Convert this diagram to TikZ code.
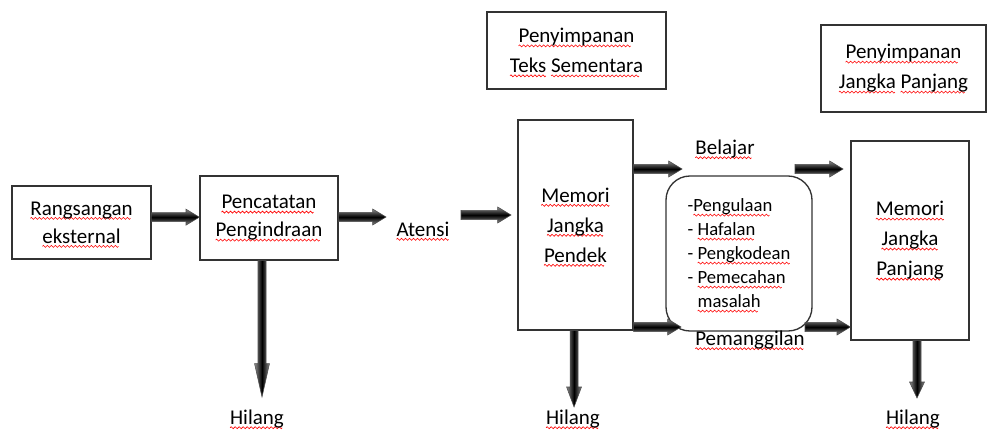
\documentclass[tikz,border=0pt]{standalone}
\usepackage{fontspec}
\setmainfont{Carlito}
\usetikzlibrary{calc}
\newsavebox\zigbox
\newcommand\sq[1]{\setbox0\hbox{#1}\rlap{\raisebox{-3.2pt}[0pt][0pt]{\hbox to \wd0{\leaders\copy\zigbox\hfill}}}#1}
\newcommand\harr[3]{%
  \path[harrow] let \p1=(#1), \p2=(#2) in
  (\x1,\y1+3.4pt) -- (\x2-#3,\y1+3.4pt) -- (\x2-#3,\y1+6pt) -- (\x2,\y1)
  -- (\x2-#3,\y1-6pt) -- (\x2-#3,\y1-3.4pt) -- (\x1,\y1-3.4pt) -- cycle;}
\newcommand\varr[3]{%
  \path[varrow] let \p1=(#1), \p2=(#2) in
  (\x1-3pt,\y1) -- (\x1-3pt,\y2+#3) -- (\x1-5.6pt,\y2+#3) -- (\x1,\y2)
  -- (\x1+5.6pt,\y2+#3) -- (\x1+3pt,\y2+#3) -- (\x1+3pt,\y1) -- cycle;}
\AtBeginDocument{\sbox\zigbox{\begin{pgfpicture}%
  \pgfpathrectangle{\pgfpoint{0pt}{-0.8pt}}{\pgfpoint{3pt}{1.6pt}}%
  \pgfusepath{use as bounding box}%
  \pgfsetstrokecolor{red}\pgfsetlinewidth{0.45pt}%
  \pgfpathmoveto{\pgfpoint{0pt}{0pt}}%
  \pgfpathlineto{\pgfpoint{0.75pt}{0.75pt}}%
  \pgfpathlineto{\pgfpoint{2.25pt}{-0.75pt}}%
  \pgfpathlineto{\pgfpoint{3pt}{0pt}}%
  \pgfusepath{stroke}%
  \end{pgfpicture}}}
\begin{document}
\begin{tikzpicture}[x=0.75pt,y=-0.75pt,
  box/.style={draw=black!80, line width=1pt, align=center, inner sep=0pt,
    font=\fontsize{15.75pt}{21pt}\selectfont},
  tall/.style={font=\fontsize{15.75pt}{22.5pt}\selectfont},
  lbl/.style={inner sep=0pt, align=center, font=\fontsize{15.75pt}{21pt}\selectfont},
  harrow/.style={top color=black!45, bottom color=black!45, middle color=black,
    draw=black!70, line width=0.4pt},
  varrow/.style={left color=black!45, right color=black!45, middle color=black,
    draw=black!70, line width=0.4pt}]
\useasboundingbox (0,0) rectangle (989,432);

% boxes
\node[box, minimum width=104.25pt, minimum height=54.75pt] (rang) at (81.5,222.5)
  {\sq{Rangsangan}\\\sq{eksternal}};
\node[box, minimum width=103.5pt, minimum height=63pt] (penc) at (269,218)
  {\sq{Pencatatan}\\\sq{Pengindraan}};
\node[lbl] (aten) at (423,229) {\sq{Atensi}};
\node[box, tall, minimum width=86.25pt, minimum height=157.5pt] (mjp) at (575.5,225)
  {\sq{Memori}\\\sq{Jangka}\\\sq{Pendek}};
\node[box, tall, minimum width=134.25pt, minimum height=57.75pt] (pts) at (576.5,50.5)
  {\sq{Penyimpanan}\\\sq{Teks} \sq{Sementara}};
\node[box, tall, minimum width=123.75pt, minimum height=65.25pt] (pjp) at (903.5,68.5)
  {\sq{Penyimpanan}\\\sq{Jangka} \sq{Panjang}};
\node[box, tall, minimum width=88.5pt, minimum height=149.25pt] (mjpj) at (910,240.5)
  {\sq{Memori}\\\sq{Jangka}\\\sq{Panjang}};
\node[box, rounded corners=18pt, minimum width=109.5pt, minimum height=116.25pt,
  align=left, font=\fontsize{14pt}{18pt}\selectfont] (proc) at (739,253.5)
  {-\sq{Pengulaan}\\- \sq{Hafalan}\\- \sq{Pengkodean}\\- \sq{Pemecahan}\\\phantom{- }\sq{masalah}};
\node[lbl] (bel) at (725,149) {\sq{Belajar}};
\node[lbl] (pem) at (750,340) {\sq{Pemanggilan}};
\node[lbl] (hil1) at (257,419) {\sq{Hilang}};
\node[lbl] (hil2) at (573,419) {\sq{Hilang}};
\node[lbl] (hil3) at (913,419) {\sq{Hilang}};

% free arrow ends
\coordinate (a2e) at (386,217);
\coordinate (a3s) at (461,215);
\coordinate (a3e) at (511,215);
\coordinate (a4e) at (682,169);
\coordinate (a5s) at (795,169);
\coordinate (a5e) at (843,169);
\coordinate (a6e) at (681,327);
\coordinate (a7s) at (805,327);
\coordinate (h1e) at (262,397);
\coordinate (h2e) at (574,407);
\coordinate (h3e) at (917,398);

% horizontal arrows
\harr{[yshift=4pt]rang.east}{penc.west}{10pt}
\harr{[yshift=0.75pt]penc.east}{a2e}{10pt}
\harr{a3s}{a3e}{10pt}
\harr{[yshift=42pt]mjp.east}{a4e}{10pt}
\harr{a5s}{a5e}{10pt}
\harr{[yshift=-76.5pt]mjp.east}{a6e}{10pt}
\harr{a7s}{mjpj.west}{10pt}

% vertical arrows
\varr{[xshift=-5.25pt]penc.south}{h1e}{25pt}
\varr{[xshift=-1.1pt]mjp.south}{h2e}{15pt}
\varr{[xshift=5.25pt]mjpj.south}{h3e}{12pt}
\end{tikzpicture}
\end{document}
